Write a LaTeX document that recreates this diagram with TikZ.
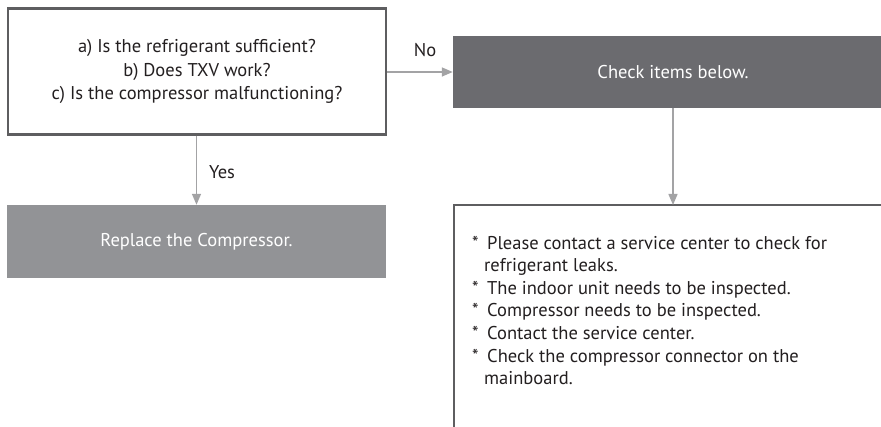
\documentclass[tikz,border=0pt]{standalone}
\usepackage{fontspec}
\setmainfont{PT Sans}
\usetikzlibrary{arrows.meta}
\definecolor{framec}{HTML}{5E5E60}
\definecolor{darkbox}{HTML}{6B6B6F}
\definecolor{greybox}{HTML}{929396}
\definecolor{arrowc}{HTML}{A3A3A5}
\definecolor{textc}{HTML}{231F20}
\newcommand{\itm}{\makebox[15pt][l]{*}}
\newcommand{\cnt}{\hspace*{12pt}}
\tikzset{
  every node/.style={font=\fontsize{18.5}{23.5}\selectfont, text=textc},
  framebox/.style={draw=framec, line width=2.2pt, fill=white, inner sep=0pt},
  darkfill/.style={fill=darkbox, draw=none, text=white, inner sep=0pt},
  greyfill/.style={fill=greybox, draw=none, text=white, inner sep=0pt},
  conn/.style={draw=arrowc, line width=1.4pt, -{Triangle[length=11pt,width=9pt]}},
  lbl/.style={inner sep=0pt},
}
\begin{document}
\begin{tikzpicture}[x=1pt,y=-1pt]
\path[use as bounding box, clip] (0,0) rectangle (881,427);
% question box
\node[framebox, minimum width=378pt, minimum height=126pt, align=center] (q) at (197,71.5)
  {a) Is the refrigerant sufficient?\\ b) Does TXV work?\\ c) Is the compressor malfunctioning?};
% check items
\node[darkfill, minimum width=440pt, minimum height=72pt] (chk) at (673,72) {Check items below.};
% replace
\node[greyfill, minimum width=379pt, minimum height=73pt] (rep) at (196.5,241.5) {Replace the Compressor.};
% list box
\node[framebox, minimum width=440pt, minimum height=240pt] (lst) at (674,325) {};
\node[lbl, anchor=north west, font=\fontsize{18.5}{22.6}\selectfont] (items) at (472,233)
  {\begin{tabular}{@{}l@{}}
   \itm Please contact a service center to check for\\
   \cnt refrigerant leaks.\\
   \itm The indoor unit needs to be inspected.\\
   \itm Compressor needs to be inspected.\\
   \itm Contact the service center.\\
   \itm Check the compressor connector on the\\
   \cnt mainboard.
   \end{tabular}};
% connectors
\draw[conn] (q.east |- chk.west) -- (chk.west);
\draw[conn] (q.south -| rep.north) -- (rep.north);
\draw[conn] (chk.south -| 673,0) -- (673,205);
\node[lbl, anchor=center] (no) at (425,50) {No};
\node[lbl, anchor=center] (yes) at (222,172) {Yes};
\end{tikzpicture}
\end{document}
